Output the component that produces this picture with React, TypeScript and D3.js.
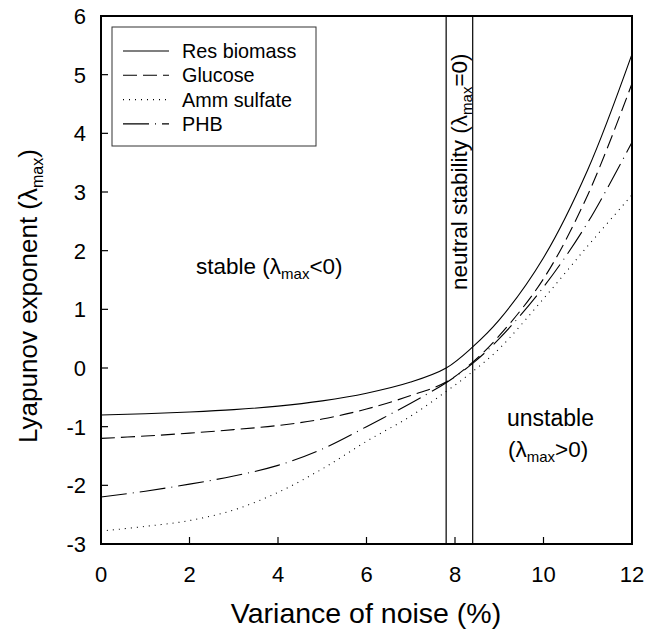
import React from "react";
import * as d3 from "d3";

const xTicks = [0, 2, 4, 6, 8, 10, 12];
const yTicks = [-3, -2, -1, 0, 1, 2, 3, 4, 5, 6];

const seriesNames = ["Res biomass", "Glucose", "Amm sulfate", "PHB"];
const xValues = [0, 1, 2, 3, 4, 5, 6, 7, 7.8, 8.4, 9, 10, 11, 12];
const resBiomass = [-0.8, -0.78, -0.75, -0.71, -0.65, -0.56, -0.43, -0.24, 0.0, 0.36, 0.82, 1.88, 3.38, 5.35];
const glucose = [-1.2, -1.16, -1.11, -1.05, -0.98, -0.87, -0.7, -0.47, -0.24, 0.1, 0.55, 1.52, 2.95, 4.85];
const ammSulfate = [-2.78, -2.7, -2.6, -2.42, -2.12, -1.72, -1.25, -0.82, -0.4, -0.06, 0.33, 1.18, 2.08, 2.95];
const phb = [-2.2, -2.1, -1.98, -1.84, -1.66, -1.38, -1.0, -0.6, -0.25, 0.08, 0.5, 1.38, 2.48, 3.85];
const seriesValues = [resBiomass, glucose, ammSulfate, phb];
const dashes = ["none", "14,6", "1,5", "26,6,1,6"];

const boundaries = [7.8, 8.4];

const FONT = "'Liberation Sans', Arial, sans-serif";

export default function App() {
  const left = 101, right = 632, top = 16, bottom = 544;
  const x = d3.scaleLinear().domain([0, 12]).range([left, right]);
  const y = d3.scaleLinear().domain([-3, 6]).range([bottom, top]);
  const line = d3
    .line<number>()
    .x((_, i) => x(xValues[i]))
    .y((d) => y(d))
    .curve(d3.curveCatmullRom.alpha(0.5));

  const legendX = 112, legendY = 27, legendW = 204, legendH = 119;

  return (
    <div style={{ position: "absolute", left: 0, top: 0 }}>
      <svg width={645} height={632} style={{ display: "block", background: "#fff" }} fontFamily={FONT}>
        <rect x={0} y={0} width={645} height={632} fill="#fff" />
        {boundaries.map((b) => (
          <line key={b} x1={x(b)} x2={x(b)} y1={top} y2={bottom} stroke="#000" strokeWidth={1.2} />
        ))}
        {seriesValues.map((vals, i) => (
          <path
            key={seriesNames[i]}
            d={line(vals) || ""}
            fill="none"
            stroke="#000"
            strokeWidth={1.1}
            strokeDasharray={dashes[i]}
          />
        ))}
        <rect x={left} y={top} width={right - left} height={bottom - top} fill="none" stroke="#000" strokeWidth={2} />
        {xTicks.map((t) => (
          <g key={"x" + t}>
            <line x1={x(t)} x2={x(t)} y1={bottom} y2={bottom - 7} stroke="#000" strokeWidth={1.2} />
            <text x={x(t)} y={582} textAnchor="middle" fontSize={22}>
              {t}
            </text>
          </g>
        ))}
        {yTicks.map((t) => (
          <g key={"y" + t}>
            <line x1={left} x2={left + 7} y1={y(t)} y2={y(t)} stroke="#000" strokeWidth={1.2} />
            <text x={86} y={y(t) + 8} textAnchor="end" fontSize={22}>
              {t}
            </text>
          </g>
        ))}
        <text x={366} y={623} textAnchor="middle" fontSize={28.5}>
          Variance of noise (%)
        </text>
        <text transform={`translate(37,296) rotate(-90)`} textAnchor="middle" fontSize={26}>
          Lyapunov exponent (λ
          <tspan fontSize={16} dy={6}>max</tspan>
          <tspan dy={-6}>)</tspan>
        </text>
        <rect x={legendX} y={legendY} width={legendW} height={legendH} fill="#fff" stroke="#333" strokeWidth={1} />
        {seriesNames.map((n, i) => {
          const ly = 51 + i * 24.3;
          return (
            <g key={"lg" + n}>
              <line x1={123} x2={169} y1={ly} y2={ly} stroke="#000" strokeWidth={1.1} strokeDasharray={dashes[i]} />
              <text x={182} y={ly + 7} fontSize={19.8}>
                {n}
              </text>
            </g>
          );
        })}
        <text x={196} y={274} fontSize={22.5}>
          stable (λ
          <tspan fontSize={15} dy={5}>max</tspan>
          <tspan dy={-5}>&lt;0)</tspan>
        </text>
        <text x={507} y={426} fontSize={23}>
          unstable
        </text>
        <text x={508} y={457} fontSize={22.5}>
          (λ
          <tspan fontSize={15} dy={5}>max</tspan>
          <tspan dy={-5}>&gt;0)</tspan>
        </text>
        <text transform={`translate(467,290) rotate(-90)`} fontSize={22.5}>
          neutral stability (λ
          <tspan fontSize={15} dy={5}>max</tspan>
          <tspan dy={-5}>=0)</tspan>
        </text>
      </svg>
    </div>
  );
}
